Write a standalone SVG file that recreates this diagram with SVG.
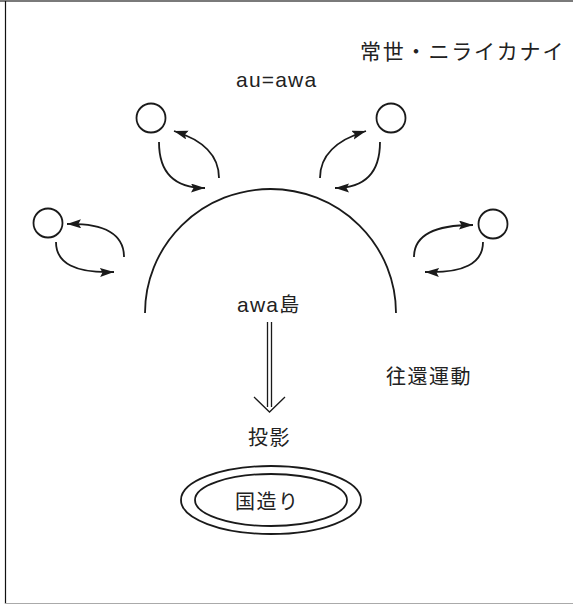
<svg xmlns="http://www.w3.org/2000/svg" width="573" height="605" viewBox="0 0 573 605">
<style>
.ln{fill:none;stroke:#1a1a1a;stroke-width:1.8}
.cj{font-family:"Noto Sans CJK JP","Liberation Sans",sans-serif;font-size:20px;fill:#222;letter-spacing:1.5px}
.lt{font-family:"Liberation Sans","Noto Sans CJK JP",sans-serif;font-size:21px;fill:#222;letter-spacing:1.2px}
</style>
<defs>
<marker id="ah" markerUnits="userSpaceOnUse" markerWidth="16" markerHeight="12" refX="14" refY="4.5" orient="auto">
<path d="M0,0 L14,4.5 L0,9 L2.5,4.5 z" fill="#1a1a1a"/>
</marker>
</defs>
<rect x="0" y="0" width="573" height="605" fill="#fff"/>
<g id="frame">
<line x1="0" y1="1" x2="573" y2="1" stroke="#7a7a7a" stroke-width="2"/>
<line x1="5.5" y1="1" x2="5.5" y2="604" stroke="#111" stroke-width="1.2"/>
<line x1="5" y1="603.5" x2="573" y2="603.5" stroke="#aaa" stroke-width="1.2"/>
</g>
<g id="label-tokoyo"><text class="cj" x="360" y="59" style="font-size:21px;letter-spacing:1.8px">常世・ニライカナイ</text></g>
<g id="label-auawa"><text class="lt" x="236" y="87">au=awa</text></g>
<g id="node-island">
<path class="ln" d="M145,313 A125.5,124 0 0 1 396,313"/>
<text class="lt" x="237" y="312">awa<tspan style="font-family:'Noto Sans CJK JP',sans-serif;font-size:20px">島</tspan></text>
</g>
<g id="node-c1"><circle class="ln" cx="151" cy="118" r="14.5"/></g>
<g id="node-c2"><circle class="ln" cx="48" cy="223" r="14.5"/></g>
<g id="node-c3"><circle class="ln" cx="391" cy="118" r="14.5"/></g>
<g id="node-c4"><circle class="ln" cx="493" cy="224" r="14.5"/></g>
<g id="label-ofuku"><text class="cj" x="386" y="384">往還運動</text></g>
<g id="connectors">
<path class="ln" d="M219,178 Q219,145 174,131" marker-end="url(#ah)"/>
<path class="ln" d="M159,142 Q159,188 205,188" marker-end="url(#ah)"/>
<path class="ln" d="M124,257 Q124,223 67,224" marker-end="url(#ah)"/>
<path class="ln" d="M56,242 Q56,274 114,272" marker-end="url(#ah)"/>
<path class="ln" d="M320,178 Q320,145 366,131" marker-end="url(#ah)"/>
<path class="ln" d="M380,142 Q380,188 335,188" marker-end="url(#ah)"/>
<path class="ln" d="M414,257 Q414,225 473,225" marker-end="url(#ah)"/>
<path class="ln" d="M483,242 Q483,274 425,272" marker-end="url(#ah)"/>
<g id="double-arrow" fill="none" stroke="#1a1a1a" stroke-width="1.3">
<line x1="267.5" y1="322" x2="267.5" y2="407"/>
<line x1="271.5" y1="322" x2="271.5" y2="407"/>
<polyline points="254,397 269.5,412 285,397"/>
</g>
</g>
<g id="label-toei"><text class="cj" x="248" y="445">投影</text></g>
<g id="node-kunizukuri">
<ellipse class="ln" cx="271" cy="500" rx="90" ry="34"/>
<ellipse class="ln" cx="271" cy="500" rx="76" ry="26"/>
<text class="cj" x="235" y="509">国造り</text>
</g>
</svg>
